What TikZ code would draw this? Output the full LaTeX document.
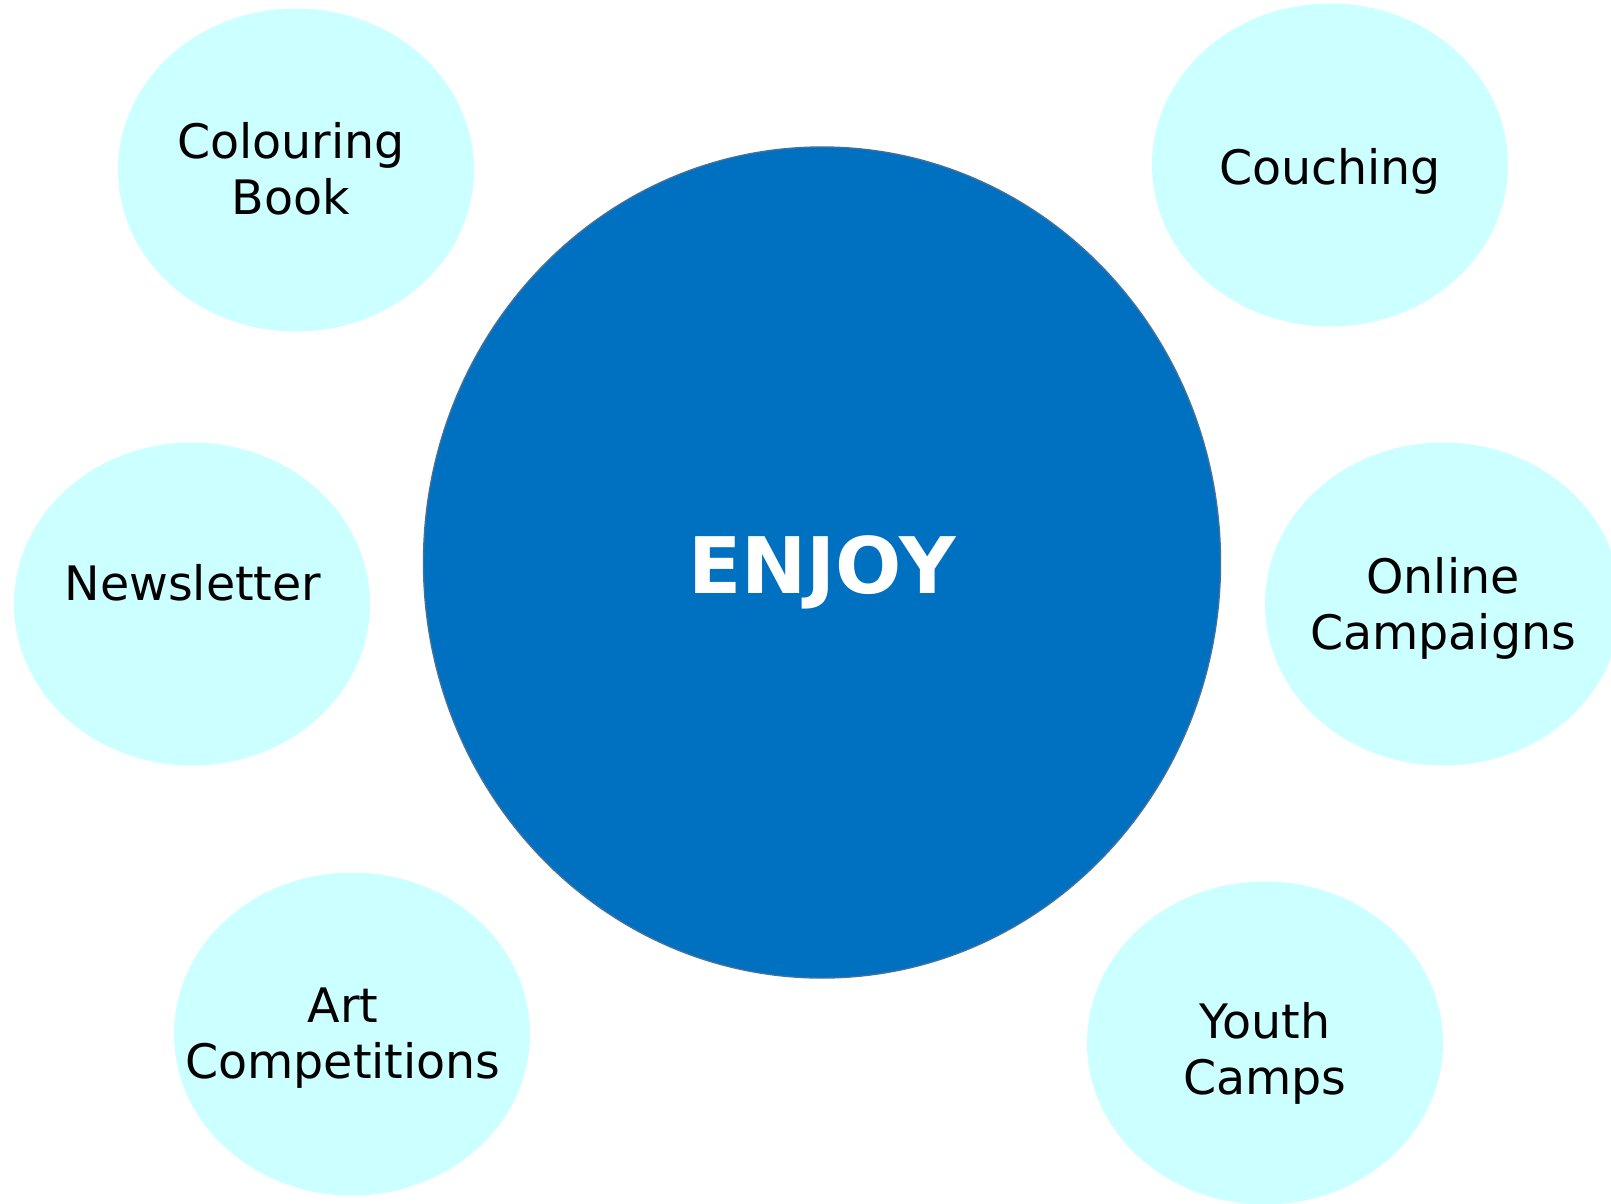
\documentclass[tikz,border=0pt]{standalone}
\usepackage{fontspec}
\setmainfont{DejaVu Sans}
\usetikzlibrary{shapes.geometric}
\definecolor{bigblue}{HTML}{0070C0}
\definecolor{bigedge}{HTML}{41719C}
\definecolor{lightcyan}{HTML}{CCFFFF}
\newcommand\mlines[1]{\begin{tabular}[t]{@{}c@{}}#1\end{tabular}}
\tikzset{
  bubble/.style={ellipse, fill=lightcyan, draw=none, minimum width=356pt, minimum height=323pt, inner sep=0pt},
  bigcircle/.style={ellipse, fill=bigblue, draw=bigedge, line width=1.4pt, minimum width=797pt, minimum height=831pt, inner sep=0pt},
  bubbletext/.style={anchor=base, inner sep=0pt, text=black, font=\fontsize{47.5}{56.5}\selectfont},
  bigtext/.style={anchor=base, inner sep=0pt, text=white, font=\fontsize{78}{90}\selectfont\bfseries}
}
\begin{document}
\begin{tikzpicture}[x=1pt,y=-1pt]
\useasboundingbox (0,0) rectangle (1611,1203);
\clip (0,0) rectangle (1611,1203);
\node[bigcircle] (enjoy) at (822,562.5) {};
\node[bubble] (colouring) at (296,170) {};
\node[bubble] (couching) at (1330,165) {};
\node[bubble] (newsletter) at (192,604) {};
\node[bubble] (online) at (1443,604) {};
\node[bubble] (art) at (352,1034) {};
\node[bubble] (youth) at (1265,1043) {};
\node[bigtext] (enjoyt) at (822,593) {ENJOY};
\node[bubbletext] (colouringt) at (291,158) {\mlines{Colouring\\Book}};
\node[bubbletext] (couchingt) at (1330,184) {Couching};
\node[bubbletext] (newslettert) at (193,600) {Newsletter};
\node[bubbletext] (onlinet) at (1443,593) {\mlines{Online\\Campaigns}};
\node[bubbletext] (artt) at (343,1022) {\mlines{Art\\Competitions}};
\node[bubbletext] (youtht) at (1265,1038) {\mlines{Youth\\Camps}};
\end{tikzpicture}
\end{document}
